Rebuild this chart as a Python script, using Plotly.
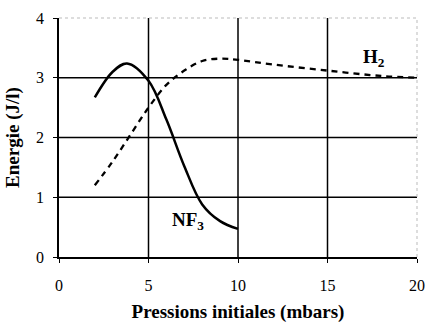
import plotly.graph_objects as go

# Data
nf3_x = [2, 3, 3.8, 5, 6, 7, 8, 9, 10]
nf3_y = [2.67, 3.1, 3.24, 2.95, 2.3, 1.52, 0.88, 0.6, 0.47]

h2_x = [2, 3, 4, 5, 6, 7, 8, 9, 10, 12, 15, 18, 20]
h2_y = [1.2, 1.6, 2.05, 2.5, 2.88, 3.12, 3.28, 3.32, 3.3, 3.22, 3.12, 3.03, 3.0]

x_ticks = [0, 5, 10, 15, 20]
y_ticks = [0, 1, 2, 3, 4]
x_grid = [5, 10, 15]
y_grid = [1, 2, 3]

FONT = "Liberation Serif, Times New Roman, serif"

fig = go.Figure()
fig.add_trace(go.Scatter(x=h2_x, y=h2_y, mode="lines", line=dict(color="black", width=2.3, dash="6px,5px", shape="spline"), showlegend=False, hoverinfo="skip"))
fig.add_trace(go.Scatter(x=nf3_x, y=nf3_y, mode="lines", line=dict(color="black", width=2.5, shape="spline"), showlegend=False, hoverinfo="skip"))

shapes = []
for gx in x_grid:
    shapes.append(dict(type="line", xref="x", yref="paper", x0=gx, x1=gx, y0=0, y1=1, line=dict(color="black", width=1.5), layer="below"))
for gy in y_grid:
    shapes.append(dict(type="line", xref="paper", yref="y", x0=0, x1=1, y0=gy, y1=gy, line=dict(color="black", width=1.5), layer="below"))
shapes.append(dict(type="line", xref="paper", yref="paper", x0=0, x1=1, y0=1, y1=1, line=dict(color="#bbbbbb", width=1, dash="dot")))
shapes.append(dict(type="line", xref="paper", yref="paper", x0=1, x1=1, y0=0, y1=1, line=dict(color="#bbbbbb", width=1, dash="dot")))

fig.update_layout(
    width=426, height=323,
    margin=dict(l=59, r=9, t=18, b=66),
    paper_bgcolor="white", plot_bgcolor="white",
    font=dict(family=FONT, color="black", size=15),
    shapes=shapes,
    xaxis=dict(range=[0, 20], tickvals=x_ticks, showgrid=False, zeroline=False,
               showline=True, linecolor="black", linewidth=1.5, automargin=False,
               ticks="outside", ticklen=4, tickcolor="black", ticklabelstandoff=9,
               ticklabeloverflow="allow",
               tickfont=dict(size=16, family=FONT),
               title=dict(text="<b>Pressions initiales (mbars)</b>", font=dict(size=19, family=FONT), standoff=12)),
    yaxis=dict(range=[0, 4], tickvals=y_ticks, showgrid=False, zeroline=False,
               showline=True, linecolor="black", linewidth=1.5, automargin=False,
               ticks="outside", ticklen=4, tickcolor="black", ticklabelstandoff=6,
               tickfont=dict(size=16, family=FONT),
               title=dict(text="<b>Energie (J/l)</b>", font=dict(size=19, family=FONT), standoff=11)),
    annotations=[
        dict(x=17.6, y=3.33, xref="x", yref="y", text="<b>H<sub>2</sub></b>", showarrow=False, font=dict(size=19, family=FONT)),
        dict(x=7.2, y=0.6, xref="x", yref="y", text="<b>NF<sub>3</sub></b>", showarrow=False, font=dict(size=19, family=FONT)),
    ],
)

fig.write_html("out.html", config={"displayModeBar": False}, post_script="document.body.style.margin='0';")
